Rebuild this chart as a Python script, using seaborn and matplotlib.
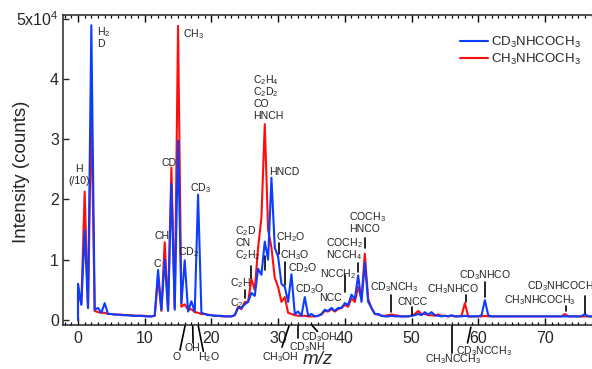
import numpy as np
import pandas as pd
import matplotlib
matplotlib.use("Agg")
import matplotlib.pyplot as plt
from matplotlib.ticker import MultipleLocator
import seaborn as sns

# m/z sampling grid of both spectra (half-unit steps)
mz = np.arange(0, 77.01, 0.5)

# intensities in units of 1e4 counts (the m/z 1 peak is shown divided by 10)
cd3_intensity = [
    0.60, 0.25, 1.48, 0.20, 4.89, 0.17, 0.20, 0.12, 0.28, 0.10,
    0.10, 0.09, 0.09, 0.08, 0.08, 0.08, 0.07, 0.07, 0.07, 0.07,
    0.06, 0.06, 0.06, 0.07, 0.83, 0.17, 1.00, 0.15, 2.26, 0.17,
    2.98, 0.28, 0.99, 0.14, 0.31, 0.14, 2.08, 0.12, 0.10, 0.08,
    0.08, 0.07, 0.07, 0.07, 0.06, 0.06, 0.06, 0.08, 0.20, 0.20,
    0.26, 0.30, 0.45, 0.40, 0.85, 0.75, 1.30, 1.00, 2.36, 1.20,
    1.05, 0.60, 0.55, 0.30, 0.76, 0.10, 0.14, 0.07, 0.38, 0.07,
    0.10, 0.06, 0.07, 0.10, 0.17, 0.15, 0.20, 0.15, 0.20, 0.20,
    0.28, 0.25, 0.42, 0.35, 0.74, 0.30, 0.95, 0.30, 0.20, 0.10,
    0.10, 0.07, 0.06, 0.06, 0.07, 0.06, 0.06, 0.06, 0.06, 0.06,
    0.07, 0.08, 0.10, 0.08, 0.13, 0.09, 0.13, 0.08, 0.07, 0.06,
    0.07, 0.06, 0.08, 0.06, 0.06, 0.06, 0.07, 0.06, 0.06, 0.06,
    0.06, 0.08, 0.33, 0.08, 0.06, 0.06, 0.06, 0.06, 0.06, 0.06,
    0.06, 0.06, 0.06, 0.06, 0.06, 0.06, 0.06, 0.06, 0.06, 0.06,
    0.06, 0.06, 0.06, 0.06, 0.06, 0.06, 0.06, 0.06, 0.06, 0.06,
    0.06, 0.06, 0.10, 0.06, 0.06,
]
ch3_intensity = [
    0.45, 0.28, 2.13, 0.20, 3.50, 0.15, 0.13, 0.12, 0.12, 0.10,
    0.10, 0.09, 0.09, 0.09, 0.08, 0.08, 0.08, 0.07, 0.07, 0.07,
    0.07, 0.06, 0.06, 0.07, 0.70, 0.15, 1.29, 0.18, 2.53, 0.20,
    4.88, 0.22, 0.26, 0.17, 0.18, 0.13, 0.12, 0.10, 0.10, 0.09,
    0.08, 0.07, 0.07, 0.06, 0.06, 0.06, 0.06, 0.08, 0.22, 0.18,
    0.30, 0.30, 0.68, 0.50, 1.20, 1.70, 3.25, 1.50, 1.20, 0.70,
    0.55, 0.30, 0.38, 0.12, 0.10, 0.08, 0.07, 0.07, 0.07, 0.06,
    0.06, 0.06, 0.07, 0.09, 0.15, 0.14, 0.18, 0.14, 0.18, 0.20,
    0.25, 0.22, 0.36, 0.30, 0.55, 0.35, 1.10, 0.35, 0.20, 0.10,
    0.09, 0.07, 0.07, 0.08, 0.09, 0.08, 0.07, 0.06, 0.06, 0.06,
    0.07, 0.10, 0.15, 0.10, 0.10, 0.08, 0.08, 0.07, 0.09, 0.07,
    0.07, 0.06, 0.07, 0.06, 0.06, 0.07, 0.28, 0.06, 0.06, 0.06,
    0.06, 0.06, 0.07, 0.06, 0.06, 0.06, 0.06, 0.06, 0.06, 0.06,
    0.06, 0.06, 0.06, 0.06, 0.06, 0.06, 0.06, 0.06, 0.06, 0.06,
    0.06, 0.06, 0.06, 0.06, 0.06, 0.06, 0.10, 0.06, 0.06, 0.06,
    0.06, 0.06, 0.06, 0.06, 0.06,
]
# each trace rises from zero at m/z 0
start_intensity = 0.0

series_names = [r"CD$_3$NHCOCH$_3$", r"CH$_3$NHCOCH$_3$"]
series_colors = ["#0b3dff", "#ff0d0d"]
x_tick_values = [0, 10, 20, 30, 40, 50, 60, 70]
y_tick_values = [0, 1, 2, 3, 4, 5]
y_tick_labels = ["0", "1", "2", "3", "4", r"5x10$^4$"]

sns.set_style("ticks")
plt.rcParams["font.family"] = ["Liberation Sans", "DejaVu Sans"]
plt.rcParams["mathtext.fontset"] = "custom"
plt.rcParams["mathtext.rm"] = "Liberation Sans"
plt.rcParams["mathtext.it"] = "Liberation Sans:italic"
plt.rcParams["mathtext.bf"] = "Liberation Sans:bold"
plt.rcParams["axes.linewidth"] = 1.1

n = len(mz) + 1
df = pd.DataFrame({
    "mz": np.concatenate([[0.0], mz, [0.0], mz]),
    "intensity": [start_intensity] + cd3_intensity + [start_intensity] + ch3_intensity,
    "sample": [series_names[0]] * n + [series_names[1]] * n,
})

W, H = 592, 369
fig = plt.figure(figsize=(W / 100, H / 100), dpi=100)
ax = fig.add_axes([63 / W, 1 - 325 / H, 1 - 63 / W, (325 - 15) / H])

# red trace underneath, blue trace on top
for name, color, z in [(series_names[1], series_colors[1], 2),
                       (series_names[0], series_colors[0], 3)]:
    sns.lineplot(data=df[df["sample"] == name], x="mz", y="intensity",
                 color=color, lw=1.5, estimator=None, sort=False,
                 ax=ax, label=name, zorder=z)

ax.set_xlim(-2.25, 77.06)
ax.set_ylim(-0.083, 5.06)
ax.set_xticks(x_tick_values)
ax.xaxis.set_minor_locator(MultipleLocator(1))
ax.set_yticks(y_tick_values, y_tick_labels)
ax.spines["right"].set_visible(False)
ax.tick_params(axis="x", which="both", top=True, bottom=True, direction="in",
               labelsize=11.5, pad=4, color="black")
ax.tick_params(axis="x", which="major", length=5, width=1.0)
ax.tick_params(axis="x", which="minor", length=2.5, width=0.9)
ax.tick_params(axis="y", which="major", left=True, right=False, direction="in",
               length=4, width=1.0, labelsize=11.5, pad=3)
ax.set_xlabel("")
ax.set_ylabel("")

fig.text(22 / W, 1 - 172 / H, "Intensity (counts)", rotation=90,
         ha="center", va="center", fontsize=13.5)
fig.text(318 / W, 1 - 360 / H, "m/z", style="italic",
         ha="center", va="center", fontsize=13.5)

handles, labels = ax.get_legend_handles_labels()
order = [labels.index(series_names[0]), labels.index(series_names[1])]
ax.legend([handles[i] for i in order], [labels[i] for i in order],
          loc="upper left", bbox_to_anchor=(460 / W, 1 - 35 / H),
          bbox_transform=fig.transFigure, frameon=False, fontsize=9.5,
          handlelength=2.1, handletextpad=0.25, labelspacing=0.15,
          borderpad=0, borderaxespad=0)

# fragment labels above the peaks
line_step = 0.198
peak_labels = [
    (2.85, 4.78, ["H$_2$", "D"], "left"),
    (15.74, 4.74, ["CH$_3$"], "left"),
    (0.2, 2.51, ["H", "(/10)"], "center"),
    (13.64, 2.61, ["CD"], "center"),
    (12.67, 1.40, ["CH"], "center"),
    (11.84, 0.93, ["C"], "center"),
    (16.5, 1.12, ["CD$_2$"], "center"),
    (18.3, 2.18, ["CD$_3$"], "center"),
    (26.24, 3.98, ["C$_2$H$_4$", "C$_2$D$_2$", "CO", "HNCH"], "left"),
    (28.64, 2.45, ["HNCD"], "left"),
    (23.54, 1.47, ["C$_2$D", "CN", "C$_2$H$_2$"], "left"),
    (22.79, 0.61, ["C$_2$H"], "left"),
    (22.79, 0.28, ["C$_2$"], "left"),
    (29.69, 1.37, ["CH$_2$O"], "left"),
    (30.28, 1.07, ["CH$_3$O"], "left"),
    (31.48, 0.86, ["CD$_2$O"], "left"),
    (32.53, 0.51, ["CD$_3$O"], "left"),
    (36.13, 0.36, ["NCC"], "left"),
    (36.28, 0.76, ["NCCH$_2$"], "left"),
    (37.18, 1.27, ["COCH$_2$", "NCCH$_4$"], "left"),
    (40.63, 1.70, ["COCH$_3$", "HNCO"], "left"),
    (43.78, 0.55, ["CD$_3$NCH$_3$"], "left"),
    (47.83, 0.30, ["CNCC"], "left"),
    (52.32, 0.51, ["CH$_3$NHCO"], "left"),
    (57.12, 0.74, ["CD$_3$NHCO"], "left"),
    (63.87, 0.33, ["CH$_3$NHCOCH$_3$"], "left"),
    (67.32, 0.56, ["CD$_3$NHCOCH$_3$"], "left"),
]
for x, y, lines, ha in peak_labels:
    for k, s in enumerate(lines):
        ax.text(x, y - k * line_step, s, ha=ha, va="center", fontsize=7.6,
                color="#222222", zorder=5, clip_on=False)

# short markers pointing at assigned peaks
peak_markers = [
    (25.0, 0.36, 0.50), (26.0, 0.69, 0.89), (28.1, 0.83, 1.07),
    (30.1, 1.10, 1.27), (31.1, 0.58, 0.96), (40.1, 0.46, 0.74),
    (42.0, 0.79, 0.94), (43.1, 1.19, 1.36), (46.9, 0.13, 0.41),
    (50.1, 0.08, 0.21), (58.2, 0.30, 0.41), (61.0, 0.38, 0.63),
    (73.1, 0.15, 0.23), (76.0, 0.12, 0.40),
]
for x, y0, y1 in peak_markers:
    ax.plot([x, x], [y0, y1], color="black", lw=1.2, zorder=4)

# assignments drawn beneath the m/z axis
axis_markers = [
    ((16.04, -0.10), (15.29, -0.50), (14.84, -0.61), "O"),
    ((17.20, -0.10), (17.25, -0.38), (17.10, -0.47), "OH"),
    ((18.04, -0.10), (18.79, -0.52), (19.64, -0.61), "H$_2$O"),
    ((31.63, -0.10), (30.58, -0.45), (30.28, -0.61), "CH$_3$OH"),
    ((33.03, -0.10), (33.03, -0.30), (34.26, -0.45), "CD$_3$NH"),
    ((35.10, -0.09), (35.90, -0.19), (36.20, -0.28), "CD$_3$OH"),
    ((56.00, -0.10), (56.00, -0.55), (56.20, -0.65), "CH$_3$NCCH$_3$"),
    ((58.90, -0.12), (58.40, -0.38), (60.87, -0.51), "CD$_3$NCCH$_3$"),
]
for p0, p1, pt, s in axis_markers:
    ax.plot([p0[0], p1[0]], [p0[1], p1[1]], color="black", lw=1.2,
            clip_on=False, zorder=4)
    ax.text(pt[0], pt[1], s, ha="center", va="center", fontsize=7.6,
            color="#222222", clip_on=False)

fig.savefig("out.png", dpi=100)
